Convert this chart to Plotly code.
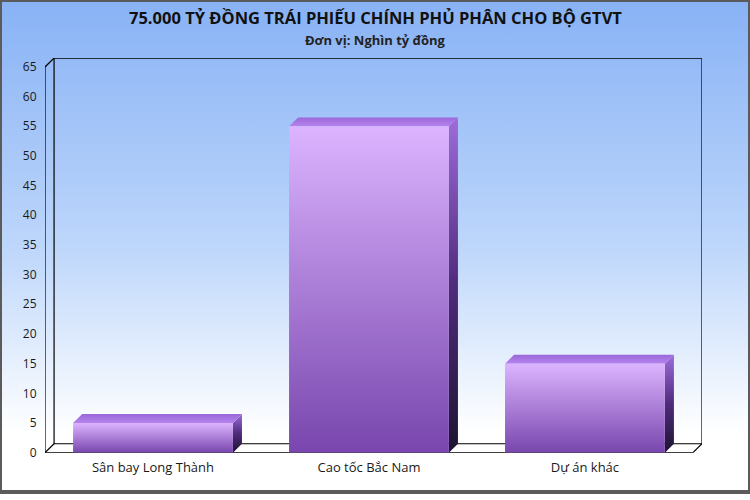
import plotly.graph_objects as go

# --- data ---
categories = ["Sân bay Long Thành", "Cao tốc Bắc Nam", "Dự án khác"]
values = [5, 55, 15]
y_ticks = list(range(0, 70, 5))

TITLE = "75.000 TỶ ĐỒNG TRÁI PHIẾU CHÍNH PHỦ PHÂN CHO BỘ GTVT"
SUBTITLE = "Đơn vị: Nghìn tỷ đồng"

# --- 3D look parameters (in axis units) ---
BAR_HALF = 0.37      # half bar width in category units
DX = 0.042           # depth offset along x
DY = 1.5             # depth offset along y
Y_MAX = 65

FRONT_CS = [[0, "#7846ad"], [1, "#dcb4ff"]]
TOP_CS = [[0, "#b583ee"], [1, "#9b68d8"]]
SIDE_CS = [[0, "#1d1430"], [0.5, "#4f2b7c"], [1, "#9e6cda"]]
BG_CS = [[0, "#ffffff"], [0.12, "#ffffff"], [0.5, "#bdd6fb"], [1, "#88b2f5"]]

fig = go.Figure()

# background gradient over the whole picture
fig.add_trace(go.Scatter(
    x=[0, 1, 1, 0, 0], y=[0, 0, 1, 1, 0], mode="none", fill="toself",
    fillgradient=dict(type="vertical", colorscale=BG_CS),
    xaxis="x", yaxis="y", hoverinfo="skip", showlegend=False,
))


def face(xs, ys, cs):
    fig.add_trace(go.Scatter(
        x=xs + [xs[0]], y=ys + [ys[0]], mode="none", fill="toself",
        fillgradient=dict(type="vertical", colorscale=cs),
        xaxis="x2", yaxis="y2", hoverinfo="skip", showlegend=False,
    ))


for i, v in enumerate(values):
    l, r = i - BAR_HALF, i + BAR_HALF
    # side face
    face([r, r + DX, r + DX, r], [0, DY, v + DY, v], SIDE_CS)
    # top face
    face([l, r, r + DX, l + DX], [v, v, v + DY, v + DY], TOP_CS)
    # front face
    face([l, r, r, l], [0, 0, v, v], FRONT_CS)

# --- box frame ---
x0, x1 = -0.5, len(categories) - 0.5
line = dict(color="#000000", width=1.2)
frame = [
    # back wall
    dict(type="rect", x0=x0 + DX, x1=x1 + DX, y0=DY, y1=Y_MAX + DY),
    # left wall
    dict(type="line", x0=x0, x1=x0, y0=0, y1=Y_MAX),
    dict(type="line", x0=x0, x1=x0 + DX, y0=Y_MAX, y1=Y_MAX + DY),
    dict(type="line", x0=x0, x1=x0 + DX, y0=0, y1=DY),
    # floor
    dict(type="line", x0=x0, x1=x1, y0=0, y1=0),
    dict(type="line", x0=x1, x1=x1 + DX, y0=0, y1=DY),
]
shapes = []
for s in frame:
    s.update(xref="x2", yref="y2", line=line, layer="below")
    shapes.append(s)
# outer border of the picture
shapes.append(dict(type="rect", xref="paper", yref="paper", x0=0, x1=1, y0=0, y1=1,
                   line=dict(color="#5b5b5b", width=4), layer="above"))

FONT = "Open Sans"

fig.update_layout(
    width=750, height=500,
    margin=dict(l=0, r=0, t=0, b=0),
    paper_bgcolor="white", plot_bgcolor="rgba(0,0,0,0)",
    showlegend=False,
    font=dict(family=FONT, color="#1a1a1a", size=12),
    shapes=shapes,
    xaxis=dict(domain=[0, 1], range=[0, 1], visible=False, fixedrange=True),
    yaxis=dict(domain=[0, 1], range=[0, 1], visible=False, fixedrange=True),
    xaxis2=dict(domain=[0.06, 0.936], range=[x0, x1 + DX], anchor="y2",
                tickvals=list(range(len(categories))), ticktext=categories,
                showgrid=False, zeroline=False, showline=False,
                ticks="outside", ticklen=3, tickcolor="rgba(0,0,0,0)",
                tickfont=dict(size=13, color="#1a1a1a")),
    yaxis2=dict(domain=[0.08, 0.882], range=[0, Y_MAX + DY], anchor="x2",
                tickvals=y_ticks, showgrid=False, zeroline=False, showline=False,
                ticks="outside", ticklen=5, tickcolor="rgba(0,0,0,0)",
                tickfont=dict(size=12, color="#1a1a1a")),
    annotations=[
        dict(text="<b>" + TITLE + "</b>", x=0.5, y=1 - 18 / 500, xref="paper", yref="paper",
             showarrow=False, yanchor="middle", font=dict(size=16.5, color="#111111")),
        dict(text="<b>" + SUBTITLE + "</b>", x=0.5, y=1 - 41 / 500, xref="paper", yref="paper",
             showarrow=False, yanchor="middle", font=dict(size=13, color="#222222")),
    ],
)

# the page body has a default margin; drop it so the figure sits at the window corner
fig.write_html("out.html", config={"displayModeBar": False},
               post_script="document.body.style.margin='0';document.body.style.overflow='hidden';")
